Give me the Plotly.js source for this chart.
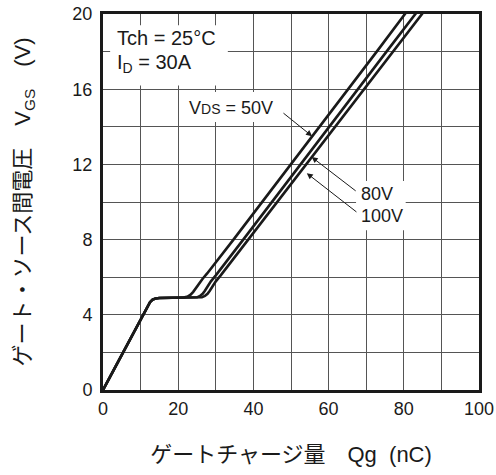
<!DOCTYPE html>
<html>
<head>
<meta charset="utf-8">
<script src="https://cdn.plot.ly/plotly-3.0.1.min.js"></script>
<style>html,body{margin:0;padding:0;background:#fff;}#chart{width:496px;height:475px;}</style>
</head>
<body>
<div id="chart"></div>
<script>
// Gate charge Qg (nC) vs gate-source voltage VGS (V)
var q50  = [0, 11, 11.8, 12.5, 13.2, 14, 15, 20, 21.5, 22.5, 23.3, 24.0, 24.7, 25.5, 26.5, 27.7, 34.7, 72.8, 80.3, 82];
var v50  = [0, 4.1, 4.42, 4.67, 4.81, 4.87, 4.89, 4.9, 4.92, 4.97, 5.07, 5.22, 5.42, 5.65, 5.92, 6.2, 8.0, 18.0, 20.0, 20.45];
var q80  = [0, 11, 11.8, 12.5, 13.2, 14, 15, 24, 25.0, 25.8, 26.5, 27.1, 27.8, 28.7, 30.0, 37.3, 75.4, 83, 85];
var v80  = [0, 4.1, 4.42, 4.67, 4.81, 4.87, 4.89, 4.9, 4.93, 5.0, 5.12, 5.28, 5.5, 5.78, 6.1, 8.0, 18.0, 20.0, 20.5];
var q100 = [0, 11, 11.8, 12.5, 13.2, 14, 15, 25.2, 26.3, 27.1, 27.8, 28.4, 29.1, 30.0, 31.3, 38.6, 77.0, 84.8, 86];
var v100 = [0, 4.1, 4.42, 4.67, 4.81, 4.87, 4.89, 4.9, 4.93, 5.0, 5.12, 5.28, 5.5, 5.78, 6.1, 8.0, 18.0, 20.0, 20.3];
var seriesNames = ["VDS = 50V", "80V", "100V"];

var LAT = "Liberation Sans, Arial, 'Noto Sans CJK JP', sans-serif";
var lineStyle = {color: "#1a1a1a", width: 2.6, shape: "linear"};
var traces = [
  {x: q50, y: v50, name: seriesNames[0], mode: "lines", line: lineStyle, hoverinfo: "skip"},
  {x: q80, y: v80, name: seriesNames[1], mode: "lines", line: lineStyle, hoverinfo: "skip"},
  {x: q100, y: v100, name: seriesNames[2], mode: "lines", line: lineStyle, hoverinfo: "skip"}
];

function box(x0, x1, y0, y1) {
  return {type: "rect", xref: "x", yref: "y", x0: x0, x1: x1, y0: y0, y1: y1,
          fillcolor: "#ffffff", line: {width: 0}, layer: "between"};
}
function txt(x, y, t, size) {
  return {xref: "x", yref: "y", x: x, y: y, text: t, showarrow: false, xanchor: "left", yanchor: "middle",
          font: {family: LAT, size: size, color: "#1a1a1a"}};
}
function arrow(x0, y0, x1, y1) {
  return {xref: "x", yref: "y", axref: "x", ayref: "y", ax: x0, ay: y0, x: x1, y: y1, text: "",
          showarrow: true, arrowhead: 2, arrowsize: 1.2, arrowwidth: 1, arrowcolor: "#1a1a1a"};
}

var layout = {
  width: 496, height: 475,
  margin: {l: 103, r: 17, t: 14, b: 85},
  paper_bgcolor: "#ffffff", plot_bgcolor: "#ffffff",
  showlegend: false,
  font: {family: LAT, color: "#1a1a1a"},
  xaxis: {
    range: [0, 100], tickmode: "linear", tick0: 0, dtick: 20,
    showgrid: true, gridcolor: "#555555", gridwidth: 1,
    minor: {dtick: 10, tick0: 0, showgrid: true, gridcolor: "#555555", gridwidth: 1},
    showline: true, linecolor: "#1a1a1a", linewidth: 3, mirror: true,
    zeroline: false, ticks: "", ticklabelstandoff: 0,
    tickfont: {family: LAT, size: 18, color: "#1a1a1a"},
    title: {text: "ゲートチャージ量\u3000Qg\u00a0\u00a0(nC)", font: {family: LAT, size: 22, color: "#1a1a1a"}, standoff: 30},
    fixedrange: true
  },
  yaxis: {
    range: [0, 20], tickmode: "linear", tick0: 0, dtick: 4,
    showgrid: true, gridcolor: "#555555", gridwidth: 1,
    minor: {dtick: 2, tick0: 0, showgrid: true, gridcolor: "#555555", gridwidth: 1},
    showline: true, linecolor: "#1a1a1a", linewidth: 3, mirror: true,
    zeroline: false, ticks: "", ticklabelstandoff: 4,
    tickfont: {family: LAT, size: 18, color: "#1a1a1a"},
    title: {text: "ゲート・ソース間電圧\u3000V<sub>GS</sub>\u3000(V)", font: {family: LAT, size: 22, color: "#1a1a1a"}, standoff: 36},
    fixedrange: true
  },
  shapes: [
    box(1.9, 33.2, 16.2, 19.4),
    box(21.3, 46.5, 14.26, 15.85),
    box(67.3, 80.5, 8.5, 11.12)
  ],
  annotations: [
    txt(3.2, 18.72, "Tch = 25°C", 20),
    txt(3.2, 17.35, "I<sub>D</sub> = 30A", 20),
    txt(22.4, 15.0, "V<span style='font-size:14px'>DS</span> = 50V", 18),
    txt(68.2, 10.45, "80V", 18),
    txt(68.2, 9.27, "100V", 18),
    arrow(47.6, 14.79, 55.6, 13.5),
    arrow(67.6, 10.53, 55.5, 12.39),
    arrow(67.8, 9.41, 54.2, 11.53)
  ]
};

Plotly.newPlot("chart", traces, layout, {staticPlot: true, displayModeBar: false});
</script>
</body>
</html>
